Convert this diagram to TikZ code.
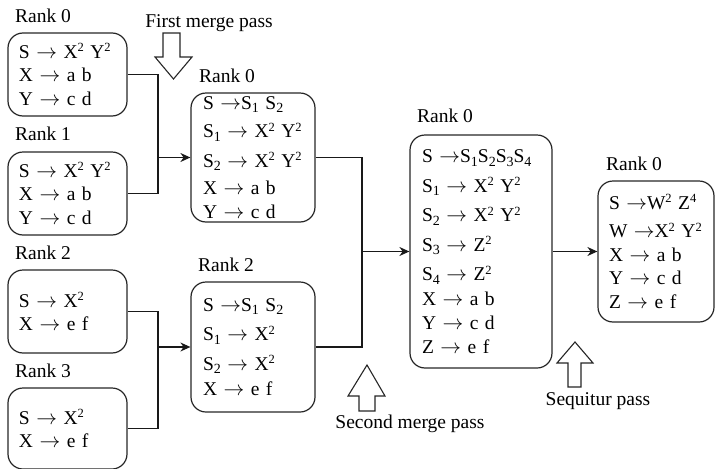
\documentclass[tikz,border=0pt]{standalone}
\usepackage{fontspec}
\setmainfont{Liberation Serif}
\usetikzlibrary{arrows.meta}
\newcommand\rfs{\fontsize{19.5}{23.5}\selectfont}
\newcommand\ra{\ensuremath{\rightarrow}}
\newcommand\sps[1]{\raisebox{6.5pt}{\fontsize{12.5}{12.5}\selectfont #1}}
\newcommand\sbs[1]{\raisebox{-3.5pt}{\fontsize{14}{14}\selectfont #1}}
\begin{document}
\begin{tikzpicture}[x=1pt,y=-1pt,
  gbox/.style={draw=black!85, line width=1.2pt, rounded corners=15pt, inner xsep=11pt, inner ysep=0pt, align=left, font=\rfs},
  lbl/.style={anchor=base west, inner sep=0pt, font=\rfs},
  ptext/.style={anchor=base, inner sep=0pt, font=\rfs},
  conn/.style={line width=1.1pt, draw=black!90},
  tip/.style={conn, -{Stealth[length=10pt,width=9pt]}},
  hollow/.style={draw=black!85, line width=1.1pt, fill=white, line join=miter}
]
\useasboundingbox (0,0) rectangle (716,469);

% first-level boxes
\node[gbox, minimum width=119pt, text width=97pt, minimum height=83pt] (A) at (67.5,74.5)
  {S \ra{} X\sps{2} Y\sps{2}\\ X \ra{} a b\\ Y \ra{} c d};
\node[gbox, minimum width=119pt, text width=97pt, minimum height=83pt] (B) at (67.5,193.5)
  {S \ra{} X\sps{2} Y\sps{2}\\ X \ra{} a b\\ Y \ra{} c d};
\node[gbox, minimum width=119pt, text width=97pt, minimum height=83pt] (D) at (67.5,311.5)
  {S \ra{} X\sps{2}\\ X \ra{} e f};
\node[gbox, minimum width=119pt, text width=97pt, minimum height=81pt] (E) at (67.5,428.5)
  {S \ra{} X\sps{2}\\ X \ra{} e f};

% second-level boxes
\node[gbox, minimum width=124pt, text width=100pt, minimum height=129pt] (C) at (253,157.5)
  {S \ra{}S\sbs{1} S\sbs{2}\\[5pt] S\sbs{1} \ra{} X\sps{2} Y\sps{2}\\[6pt] S\sbs{2} \ra{} X\sps{2} Y\sps{2}\\[4pt] X \ra{} a b\\ Y \ra{} c d};
\node[gbox, minimum width=124pt, text width=100pt, minimum height=130pt] (F) at (253,347)
  {S \ra{}S\sbs{1} S\sbs{2}\\[6pt] S\sbs{1} \ra{} X\sps{2}\\[6pt] S\sbs{2} \ra{} X\sps{2}\\[2pt] X \ra{} e f};

% third-level box
\node[gbox, minimum width=142pt, text width=118pt, minimum height=233pt] (G) at (481,251.5)
  {S \ra{}S\sbs{1}S\sbs{2}S\sbs{3}S\sbs{4}\\[6pt] S\sbs{1} \ra{} X\sps{2} Y\sps{2}\\[6pt] S\sbs{2} \ra{} X\sps{2} Y\sps{2}\\[6pt] S\sbs{3} \ra{} Z\sps{2}\\[6pt] S\sbs{4} \ra{} Z\sps{2}\\[1pt] X \ra{} a b\\[1pt] Y \ra{} c d\\ Z \ra{} e f};

% final box
\node[gbox, minimum width=116pt, inner xsep=11pt, text width=94pt, minimum height=141pt] (H) at (656,251.5)
  {S \ra{}W\sps{2} Z\sps{4}\\[5pt] W \ra{}X\sps{2} Y\sps{2}\\ X \ra{} a b\\ Y \ra{} c d\\ Z \ra{} e f};

% rank labels
\node[lbl] (lA) at (15,22) {Rank 0};
\node[lbl] (lB) at (15,140) {Rank 1};
\node[lbl] (lD) at (15,259) {Rank 2};
\node[lbl] (lE) at (15,377) {Rank 3};
\node[lbl] (lC) at (199,82) {Rank 0};
\node[lbl] (lF) at (198,271) {Rank 2};
\node[lbl] (lG) at (417,122) {Rank 0};
\node[lbl] (lH) at (606,170) {Rank 0};

% junctions
\coordinate (j1) at (158,157.5);
\coordinate (j2) at (158,347);
\coordinate (j3) at (362,251.5);

% connectors
\draw[conn] (A.east) -| (j1) |- (B.east);
\draw[tip] (j1) -- (C.west);
\draw[conn] (D.east) -| (j2) |- (E.east);
\draw[tip] (j2) -- (F.west);
\draw[conn] (C.east) -| (j3) |- (F.east);
\draw[tip] (j3) -- (G.west);
\draw[tip] (G.east) -- (H.west);

% hollow pass arrows
\draw[hollow] (163,33) -- (180,33) -- (180,57) -- (192,57) -- (173.5,79) -- (155,57) -- (163,57) -- cycle;
\draw[hollow] (359,411) -- (375,411) -- (375,396) -- (385,396) -- (367,365) -- (348,396) -- (359,396) -- cycle;
\draw[hollow] (568,387) -- (581,387) -- (581,363) -- (593,363) -- (575,342) -- (557,363) -- (568,363) -- cycle;

% pass labels
\node[ptext] (p1) at (209,27) {First merge pass};
\node[ptext] (p2) at (410,428) {Second merge pass};
\node[ptext] (p3) at (598,405) {Sequitur pass};
\end{tikzpicture}
\end{document}
